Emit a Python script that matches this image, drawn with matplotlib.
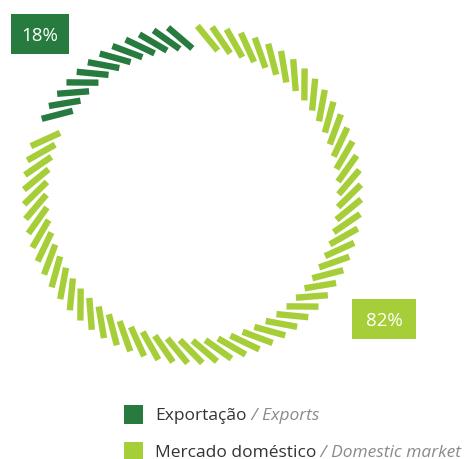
import numpy as np
import matplotlib
matplotlib.use('Agg')
import matplotlib.pyplot as plt
from matplotlib.patches import Rectangle

# shares of sales
labels_pt = ['Exportação', 'Mercado doméstico']
labels_en = ['Exports', 'Domestic market']
shares = [18, 82]
colors = ['#287b3f', '#a6ce39']

n_slots = 72          # dash positions around the ring
start_angle = 94.5    # degrees, first slot of the first share
step = 360 / n_slots

plt.rcParams['font.family'] = ['Open Sans', 'DejaVu Sans']

fig = plt.figure(figsize=(4.67, 4.60), dpi=100)
ax = fig.add_axes([0, 0, 1, 1])
ax.set_xlim(0, 467)
ax.set_ylim(460, 0)
ax.set_aspect('equal')
ax.axis('off')

cx, cy, r = 192.5, 195.5, 157
half = 16
slot = 0
for share, col in zip(shares, colors):
    k = int(round(share / 100 * n_slots))
    # last slot of each share is left blank as a separator
    for i in range(k - 1):
        th = np.deg2rad(start_angle + step * (slot + i))
        mx, my = cx + r * np.cos(th), cy - r * np.sin(th)
        d = th + np.deg2rad(45)
        dx, dy = half * np.cos(d), -half * np.sin(d)
        ax.plot([mx - dx, mx + dx], [my - dy, my + dy], color=col,
                lw=4.6, solid_capstyle='butt')
    slot += k

# percentage boxes
boxes = [(11, 15, 58, 40), (352, 300, 64, 40)]
for (x, y, w, h), share, col in zip(boxes, shares, colors):
    ax.add_patch(Rectangle((x, y), w, h, color=col, lw=0))
    ax.text(x + w / 2, y + h / 2 + 1, f'{share}%', color='white', fontsize=13.5,
            ha='center', va='center')

# legend
for i, (pt, en, col) in enumerate(zip(labels_pt, labels_en, colors)):
    y = 406 + 37 * i
    ax.add_patch(Rectangle((124, y), 19, 19, color=col, lw=0))
    t = ax.text(155, y + 10, pt, color='#333333', fontsize=12.5, va='center')
    ax.annotate(' / ' + en, xy=(1, 0.5), xycoords=t, va='center',
                color='#8a8a8a', fontsize=12.5, style='italic')

fig.savefig('out.png', dpi=100)
